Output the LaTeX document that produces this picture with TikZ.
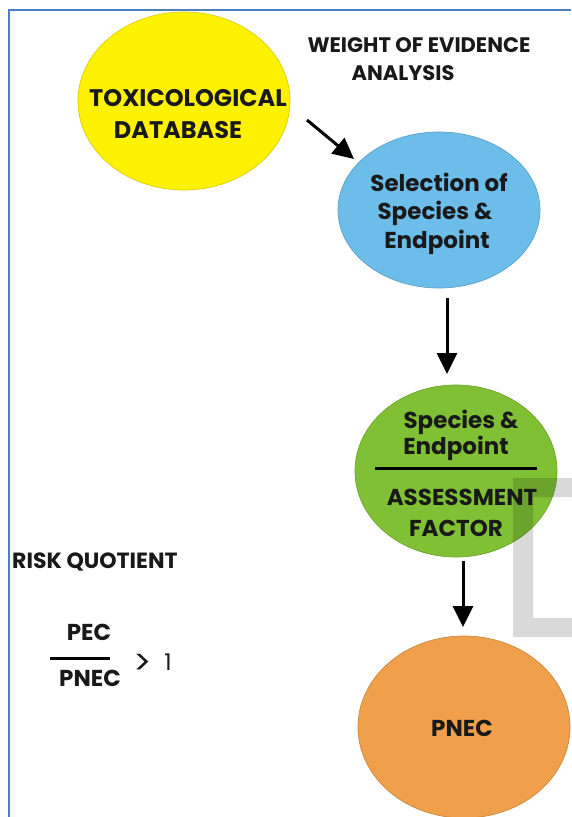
\documentclass[tikz,border=0pt]{standalone}
\usepackage{fontspec}
\setmainfont{Poppins}
\usetikzlibrary{shapes.geometric,arrows.meta}
\definecolor{frameblue}{HTML}{4A7EC5}
\definecolor{cyellow}{HTML}{FFF200}
\definecolor{cblue}{HTML}{6DBDEA}
\definecolor{cgreen}{HTML}{80C034}
\definecolor{corange}{HTML}{F0A04A}
\tikzset{
  blob/.style={ellipse, inner sep=0pt, draw=#1!85!black, line width=0.7pt, fill=#1},
  lbl/.style={inner sep=0pt, font=\fontsize{23}{26}\selectfont\bfseries, text=black!90, anchor=center},
  lblsm/.style={lbl, font=\fontsize{21}{24}\selectfont\bfseries},
  lblbig/.style={lbl, font=\fontsize{24}{28}\selectfont\bfseries},
  flow/.style={line width=3pt, -{Triangle[length=21pt,width=20pt]}},
}
\begin{document}
\begin{tikzpicture}[x=1pt,y=-1pt]
\useasboundingbox (0,0) rectangle (571,817);
\fill[white] (0,0) rectangle (571,817);
% frame
\draw[frameblue, line width=2pt] (9,817) -- (9,10) -- (571,10);
% ellipses
\node[blob=cyellow, minimum width=212pt, minimum height=178pt] (yel) at (184,101) {};
\node[blob=cblue, minimum width=202pt, minimum height=156pt] (blu) at (439,210) {};
\node[blob=cgreen, minimum width=202pt, minimum height=172pt] (grn) at (456,471) {};
\node[blob=corange, minimum width=212pt, minimum height=182pt] (org) at (464,727) {};
% grey watermark band
\fill[black, opacity=0.15, even odd rule] (513,478) rectangle (575,637) (533,497) rectangle (575,618);
% texts
\node[lblsm] (w1) at (419,45) {WEIGHT OF EVIDENCE};
\node[lblsm] (w2) at (403,73) {ANALYSIS};
\node[lblbig] (t1) at (188,98) {TOXICOLOGICAL};
\node[lblbig] (t2) at (178,130) {DATABASE};
\node[lbl] (s1) at (439,182) {Selection of};
\node[lbl] (s2) at (435,213) {Species \&};
\node[lbl] (s3) at (437,242) {Endpoint};
\node[lbl] (g1) at (461,422) {Species \&};
\node[lbl] (g2) at (456,448) {Endpoint};
\node[lbl] (g3) at (462,497) {ASSESSMENT};
\node[lbl] (g4) at (456,528) {FACTOR};
\coordinate (gl1) at (375,468);
\coordinate (gl2) at (537,468);
\draw[line width=3pt] (gl1) -- (gl2);
\node[lbl] (pn) at (462,728) {PNEC};
\node[lbl, anchor=west, font=\fontsize{22}{24}\selectfont\bfseries] (rq) at (12,562) {RISK QUOTIENT};
\node[lbl] (pec) at (89,632) {PEC};
\node[lbl] (pnec) at (90,678) {PNEC};
\coordinate (fb1) at (50,658);
\coordinate (fb2) at (110,658);
\draw[line width=3pt] (fb1) -- (fb2);
\node[lbl, font=\fontsize{34}{34}\selectfont] (gt) at (143,664) {>};
\node[lbl, font=\fontsize{23}{24}\selectfont] (one) at (168,662) {1};
% arrows
\coordinate (a1s) at (307,120);
\coordinate (a1e) at (354,159);
\coordinate (a2s) at (447,298);
\coordinate (a2e) at (447,374);
\coordinate (a3s) at (463,561);
\coordinate (a3e) at (463,627);
\draw[flow] (a1s) -- (a1e);
\draw[flow] (a2s) -- (a2e);
\draw[flow] (a3s) -- (a3e);
\end{tikzpicture}
\end{document}
